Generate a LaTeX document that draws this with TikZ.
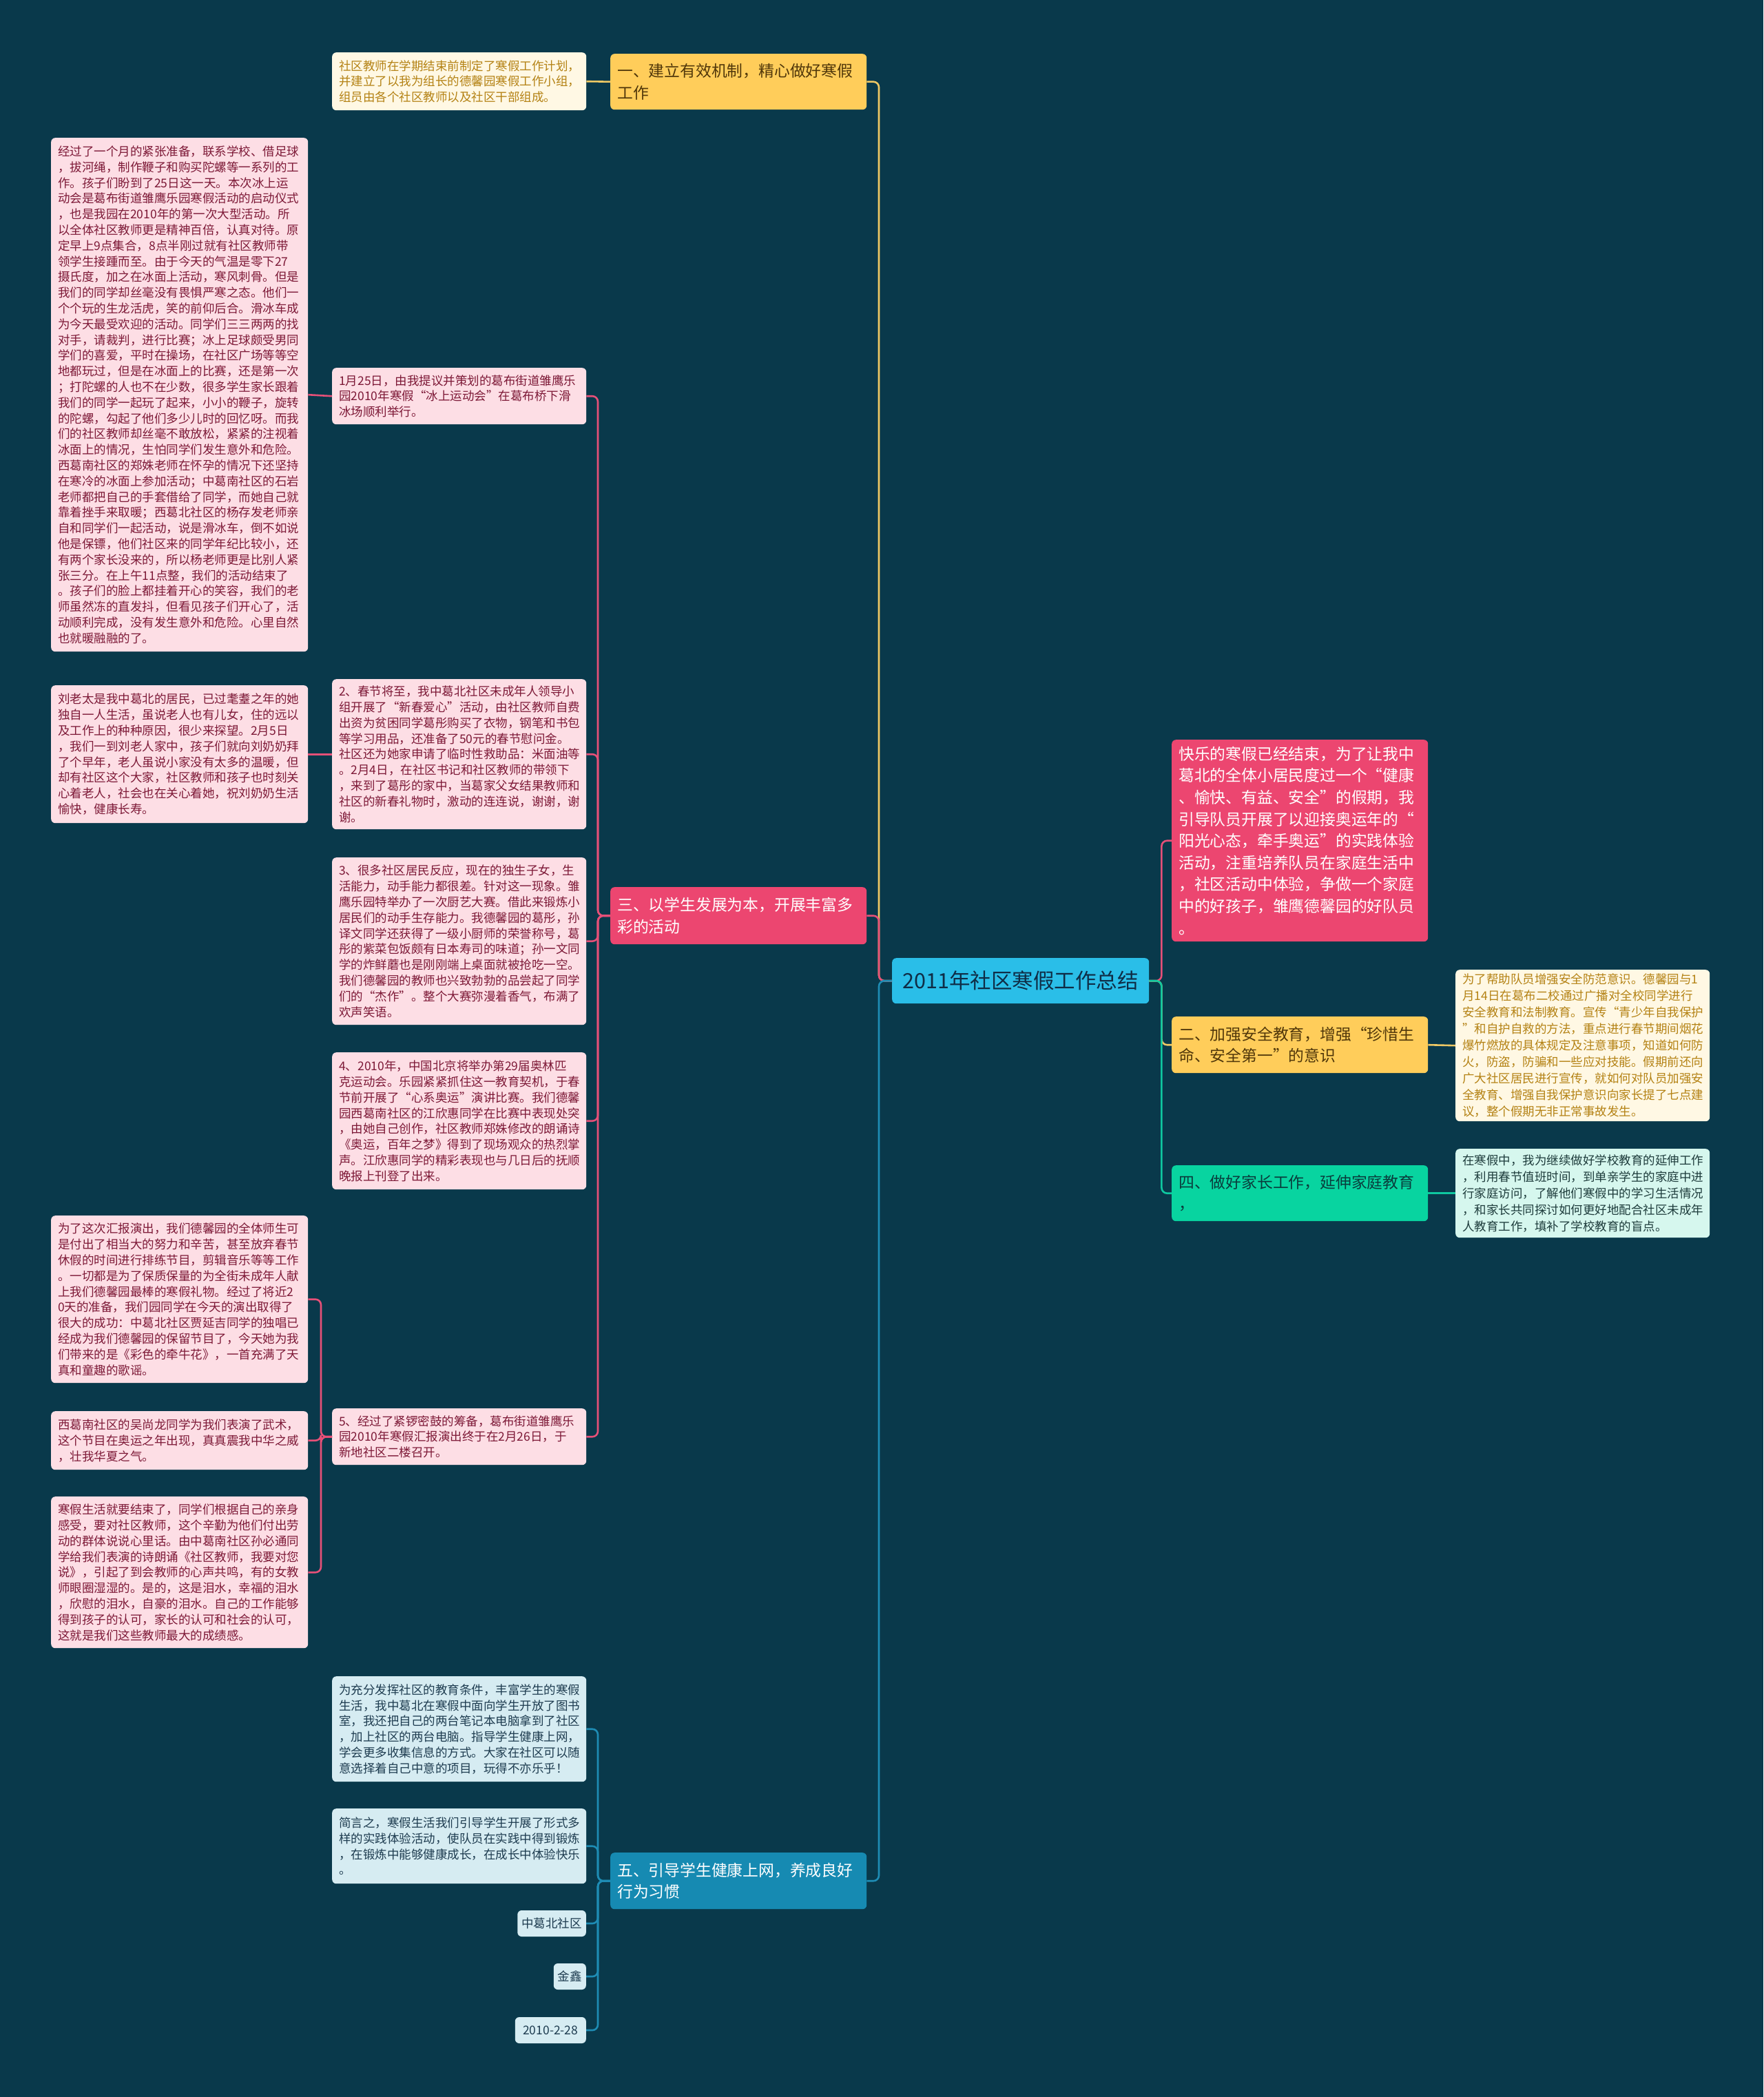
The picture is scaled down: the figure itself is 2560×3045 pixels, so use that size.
\documentclass[tikz,border=0pt]{standalone}
\usepackage{fontspec}
\setmainfont{Noto Sans CJK SC}
\definecolor{bg}{RGB}{9,57,75}
\definecolor{cyanfill}{RGB}{42,190,232}
\definecolor{cyantext}{RGB}{15,45,70}
\definecolor{yelfill}{RGB}{255,205,90}
\definecolor{yeltext}{RGB}{80,55,10}
\definecolor{redfill}{RGB}{236,70,112}
\definecolor{bluefill}{RGB}{22,138,178}
\definecolor{greenfill}{RGB}{8,212,160}
\definecolor{greentext}{RGB}{10,60,60}
\definecolor{pinkfill}{RGB}{253,222,229}
\definecolor{pinktext}{RGB}{125,25,55}
\definecolor{creamfill}{RGB}{255,248,228}
\definecolor{creamtext}{RGB}{180,130,20}
\definecolor{icefill}{RGB}{214,236,242}
\definecolor{icetext}{RGB}{30,60,80}
\definecolor{mintfill}{RGB}{214,247,238}
\definecolor{minttext}{RGB}{30,60,60}
\definecolor{yelline}{RGB}{238,200,100}
\definecolor{redline}{RGB}{230,80,120}
\definecolor{blueline}{RGB}{30,140,180}
\definecolor{greenline}{RGB}{15,200,160}
\begin{document}
\begin{tikzpicture}[x=1pt,y=-1pt,
  box/.style={rounded corners=6pt, align=left, inner xsep=10pt, inner ysep=0pt, anchor=north west},
  topic/.style={box, text width=352pt, font=\fontsize{22.8}{31.6}\selectfont},
  note/.style={box, text width=349pt, font=\fontsize{17.5}{22.8}\selectfont},
  pinknote/.style={note, fill=pinkfill, text=pinktext},
  longnote/.style={pinknote, text width=353pt},
  creamnote/.style={note, fill=creamfill, text=creamtext},
  icenote/.style={note, fill=icefill, text=icetext},
  tag/.style={icenote, text width=, anchor=east, inner xsep=6pt, align=center},
  link/.style={line width=2.6pt, rounded corners=8pt}]

\useasboundingbox (0,0) rectangle (2560,3045);
\fill[bg] (0,0) rectangle (2560,3045);

\node[box, anchor=north west, align=center, fill=cyanfill, text=cyantext, minimum width=373pt, minimum height=66pt,
  font=\fontsize{30.5}{36}\selectfont] (main) at (1295,1391) {2011年社区寒假工作总结};

% left topics
\node[topic, fill=yelfill, text=yeltext, minimum height=81pt] (t1) at (886,78)
  {一、建立有效机制，精心做好寒假\\工作};
\node[topic, fill=redfill, text=white, minimum height=83pt] (t3) at (886,1288)
  {三、以学生发展为本，开展丰富多\\彩的活动};
\node[topic, fill=bluefill, text=white, minimum height=82pt] (t5) at (886,2690)
  {五、引导学生健康上网，养成良好\\行为习惯};

% right topics
\node[topic, fill=redfill, text=white, minimum height=293pt] (intro) at (1701,1074)
  {快乐的寒假已经结束，为了让我中\\葛北的全体小居民度过一个“健康\\、愉快、有益、安全”的假期，我\\引导队员开展了以迎接奥运年的“\\阳光心态，牵手奥运”的实践体验\\活动，注重培养队员在家庭生活中\\，社区活动中体验，争做一个家庭\\中的好孩子，雏鹰德馨园的好队员\\。};
\node[topic, fill=yelfill, text=yeltext, minimum height=82pt] (t2) at (1701,1476)
  {二、加强安全教育，增强“珍惜生\\命、安全第一”的意识};
\node[topic, fill=greenfill, text=greentext, minimum height=81pt] (t4) at (1701,1692)
  {四、做好家长工作，延伸家庭教育\\，};

\node[creamnote, minimum height=220pt, font=\fontsize{17.5}{24}\selectfont] (t2a) at (2113,1408)
  {为了帮助队员增强安全防范意识。德馨园与1\\月14日在葛布二校通过广播对全校同学进行\\安全教育和法制教育。宣传“青少年自我保护\\”和自护自救的方法，重点进行春节期间烟花\\爆竹燃放的具体规定及注意事项，知道如何防\\火，防盗，防骗和一些应对技能。假期前还向\\广大社区居民进行宣传，就如何对队员加强安\\全教育、增强自我保护意识向家长提了七点建\\议，整个假期无非正常事故发生。};
\node[note, fill=mintfill, text=minttext, minimum height=129pt, font=\fontsize{17.5}{24}\selectfont] (t4a) at (2113,1668)
  {在寒假中，我为继续做好学校教育的延伸工作\\，利用春节值班时间，到单亲学生的家庭中进\\行家庭访问，了解他们寒假中的学习生活情况\\，和家长共同探讨如何更好地配合社区未成年\\人教育工作，填补了学校教育的盲点。};

% notes of topic one and three
\node[creamnote, minimum height=84pt] (t1a) at (482,76)
  {社区教师在学期结束前制定了寒假工作计划，\\并建立了以我为组长的德馨园寒假工作小组，\\组员由各个社区教师以及社区干部组成。};
\node[pinknote, minimum height=82pt] (t3a) at (482,534)
  {1月25日，由我提议并策划的葛布街道雏鹰乐\\园2010年寒假“冰上运动会”在葛布桥下滑\\冰场顺利举行。};
\node[pinknote, minimum height=218pt] (t3b) at (482,986)
  {2、春节将至，我中葛北社区未成年人领导小\\组开展了“新春爱心”活动，由社区教师自费\\出资为贫困同学葛彤购买了衣物，钢笔和书包\\等学习用品，还准备了50元的春节慰问金。\\社区还为她家申请了临时性救助品：米面油等\\。2月4日，在社区书记和社区教师的带领下\\，来到了葛彤的家中，当葛家父女结果教师和\\社区的新春礼物时，激动的连连说，谢谢，谢\\谢。};
\node[pinknote, minimum height=243pt] (t3c) at (482,1245)
  {3、很多社区居民反应，现在的独生子女，生\\活能力，动手能力都很差。针对这一现象。雏\\鹰乐园特举办了一次厨艺大赛。借此来锻炼小\\居民们的动手生存能力。我德馨园的葛彤，孙\\译文同学还获得了一级小厨师的荣誉称号，葛\\彤的紫菜包饭颇有日本寿司的味道；孙一文同\\学的炸鲜蘑也是刚刚端上桌面就被抢吃一空。\\我们德馨园的教师也兴致勃勃的品尝起了同学\\们的“杰作”。整个大赛弥漫着香气，布满了\\欢声笑语。};
\node[pinknote, minimum height=199pt] (t3d) at (482,1528)
  {4、2010年，中国北京将举办第29届奥林匹\\克运动会。乐园紧紧抓住这一教育契机，于春\\节前开展了“心系奥运”演讲比赛。我们德馨\\园西葛南社区的江欣惠同学在比赛中表现处突\\，由她自己创作，社区教师郑姝修改的朗诵诗\\《奥运，百年之梦》得到了现场观众的热烈掌\\声。江欣惠同学的精彩表现也与几日后的抚顺\\晚报上刊登了出来。};
\node[pinknote, minimum height=82pt] (t3e) at (482,2045)
  {5、经过了紧锣密鼓的筹备，葛布街道雏鹰乐\\园2010年寒假汇报演出终于在2月26日，于\\新地社区二楼召开。};

\node[longnote, minimum height=746pt] (t3a1) at (74,200)
  {经过了一个月的紧张准备，联系学校、借足球\\，拔河绳，制作鞭子和购买陀螺等一系列的工\\作。孩子们盼到了25日这一天。本次冰上运\\动会是葛布街道雏鹰乐园寒假活动的启动仪式\\，也是我园在2010年的第一次大型活动。所\\以全体社区教师更是精神百倍，认真对待。原\\定早上9点集合，8点半刚过就有社区教师带\\领学生接踵而至。由于今天的气温是零下27\\摄氏度，加之在冰面上活动，寒风刺骨。但是\\我们的同学却丝毫没有畏惧严寒之态。他们一\\个个玩的生龙活虎，笑的前仰后合。滑冰车成\\为今天最受欢迎的活动。同学们三三两两的找\\对手，请裁判，进行比赛；冰上足球颇受男同\\学们的喜爱，平时在操场，在社区广场等等空\\地都玩过，但是在冰面上的比赛，还是第一次\\；打陀螺的人也不在少数，很多学生家长跟着\\我们的同学一起玩了起来，小小的鞭子，旋转\\的陀螺，勾起了他们多少儿时的回忆呀。而我\\们的社区教师却丝毫不敢放松，紧紧的注视着\\冰面上的情况，生怕同学们发生意外和危险。\\西葛南社区的郑姝老师在怀孕的情况下还坚持\\在寒冷的冰面上参加活动；中葛南社区的石岩\\老师都把自己的手套借给了同学，而她自己就\\靠着挫手来取暖；西葛北社区的杨存发老师亲\\自和同学们一起活动，说是滑冰车，倒不如说\\他是保镖，他们社区来的同学年纪比较小，还\\有两个家长没来的，所以杨老师更是比别人紧\\张三分。在上午11点整，我们的活动结束了\\。孩子们的脸上都挂着开心的笑容，我们的老\\师虽然冻的直发抖，但看见孩子们开心了，活\\动顺利完成，没有发生意外和危险。心里自然\\也就暖融融的了。};
\node[longnote, minimum height=200pt] (t3b1) at (74,995)
  {刘老太是我中葛北的居民，已过耄耋之年的她\\独自一人生活，虽说老人也有儿女，住的远以\\及工作上的种种原因，很少来探望。2月5日\\，我们一到刘老人家中，孩子们就向刘奶奶拜\\了个早年，老人虽说小家没有太多的温暖，但\\却有社区这个大家，社区教师和孩子也时刻关\\心着老人，社会也在关心着她，祝刘奶奶生活\\愉快，健康长寿。};
\node[longnote, minimum height=243pt] (t3e1) at (74,1765)
  {为了这次汇报演出，我们德馨园的全体师生可\\是付出了相当大的努力和辛苦，甚至放弃春节\\休假的时间进行排练节目，剪辑音乐等等工作\\。一切都是为了保质保量的为全街未成年人献\\上我们德馨园最棒的寒假礼物。经过了将近2\\0天的准备，我们园同学在今天的演出取得了\\很大的成功：中葛北社区贾延吉同学的独唱已\\经成为我们德馨园的保留节目了，今天她为我\\们带来的是《彩色的牵牛花》，一首充满了天\\真和童趣的歌谣。};
\node[longnote, minimum height=85pt] (t3e2) at (74,2049)
  {西葛南社区的吴尚龙同学为我们表演了武术，\\这个节目在奥运之年出现，真真震我中华之威\\，壮我华夏之气。};
\node[longnote, minimum height=220pt] (t3e3) at (74,2173)
  {寒假生活就要结束了，同学们根据自己的亲身\\感受，要对社区教师，这个辛勤为他们付出劳\\动的群体说说心里话。由中葛南社区孙必通同\\学给我们表演的诗朗诵《社区教师，我要对您\\说》，引起了到会教师的心声共鸣，有的女教\\师眼圈湿湿的。是的，这是泪水，幸福的泪水\\，欣慰的泪水，自豪的泪水。自己的工作能够\\得到孩子的认可，家长的认可和社会的认可，\\这就是我们这些教师最大的成绩感。};

% notes of topic five
\node[icenote, minimum height=153pt] (t5a) at (482,2434)
  {为充分发挥社区的教育条件，丰富学生的寒假\\生活，我中葛北在寒假中面向学生开放了图书\\室，我还把自己的两台笔记本电脑拿到了社区\\，加上社区的两台电脑。指导学生健康上网，\\学会更多收集信息的方式。大家在社区可以随\\意选择着自己中意的项目，玩得不亦乐乎！};
\node[icenote, minimum height=109pt] (t5b) at (482,2626)
  {简言之，寒假生活我们引导学生开展了形式多\\样的实践体验活动，使队员在实践中得到锻炼\\，在锻炼中能够健康成长，在成长中体验快乐\\。};
\node[tag, minimum height=38pt] (t5c) at (851,2793) {中葛北社区};
\node[tag, minimum height=38pt] (t5d) at (851,2870) {金鑫};
\node[tag, minimum height=38pt, minimum width=103pt] (t5e) at (851,2948) {2010-2-28};

% links
\draw[link, yelline] (main.west) -- ++(-19,0) |- (t1.east);
\draw[link, redline] (main.west) -- ++(-19,0) |- (t3.east);
\draw[link, blueline] (main.west) -- ++(-19,0) |- (t5.east);
\draw[link, redline] (main.east) -- ++(18,0) |- (intro.west);
\draw[link, yelline] (main.east) -- ++(18,0) |- (t2.west);
\draw[link, greenline] (main.east) -- ++(18,0) |- (t4.west);
\draw[link, yelline] (t2.east) -- (t2a.west);
\draw[link, greenline] (t4.east) -- (t4a.west);
\draw[link, yelline] (t1.west) -- (t1a.east);
\foreach \n in {t3a,t3b,t3c,t3d,t3e}
  \draw[link, redline] (t3.west) -- ++(-18,0) |- (\n.east);
\draw[link, redline] (t3a.west) -- (t3a1.east);
\draw[link, redline] (t3b.west) -- (t3b1.east);
\foreach \n in {t3e1,t3e2,t3e3}
  \draw[link, redline] (t3e.west) -- ++(-16,0) |- (\n.east);
\foreach \n in {t5a,t5b,t5c,t5d,t5e}
  \draw[link, blueline] (t5.west) -- ++(-18,0) |- (\n.east);

\end{tikzpicture}
\end{document}
